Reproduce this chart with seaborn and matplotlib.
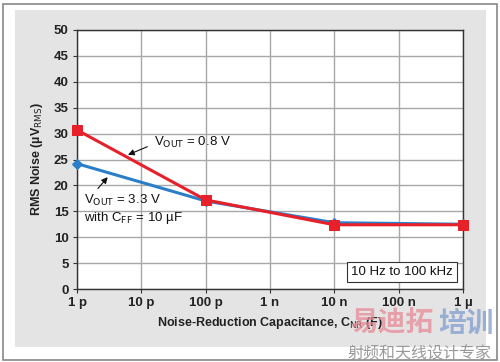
import pandas as pd
import numpy as np
import matplotlib.pyplot as plt
import seaborn as sns
from matplotlib.patches import Rectangle

sns.set_style('white')
plt.rcParams['font.family'] = ['Liberation Sans', 'Noto Sans CJK SC', 'DejaVu Sans']

# data
cap = [1e-12, 1e-10, 1e-8, 1e-6]
noise_08 = [30.7, 17.2, 12.4, 12.4]
noise_33 = [24.2, 17.0, 12.8, 12.5]
xticks = [1e-12, 1e-11, 1e-10, 1e-9, 1e-8, 1e-7, 1e-6]
xlabels = ['1 p', '10 p', '100 p', '1 n', '10 n', '100 n', '1 µ']
yticks = list(range(0, 55, 5))

df = pd.DataFrame({'cap': cap * 2,
                   'noise': noise_33 + noise_08,
                   'series': ['3.3'] * 4 + ['0.8'] * 4})

fig = plt.figure(figsize=(5, 3.62), dpi=100)
fig.patch.set_facecolor('white')
# outer frame and grey panel
fig.patches.append(Rectangle((3 / 500, 2 / 362), 494 / 500, 356 / 362, transform=fig.transFigure,
                             fill=False, edgecolor='#888888', lw=1.2, zorder=-10))
fig.patches.append(Rectangle((15 / 500, 15 / 362), 471 / 500, 337 / 362, transform=fig.transFigure,
                             facecolor='#e4e4e4', edgecolor='none', zorder=-10))

ax = fig.add_axes([77 / 500, 73 / 362, 386 / 500, 259 / 362])
ax.set_facecolor('white')

pal = {'3.3': '#2a7fc8', '0.8': '#e8202a'}
sns.lineplot(data=df[df.series == '3.3'], x='cap', y='noise', color=pal['3.3'], lw=2.2,
             marker='D', markersize=5.5, markeredgecolor=pal['3.3'], ax=ax, zorder=3,
             clip_on=False)
sns.lineplot(data=df[df.series == '0.8'], x='cap', y='noise', color=pal['0.8'], lw=2.2,
             marker='s', markersize=6.5, markeredgecolor=pal['0.8'], ax=ax, zorder=4,
             clip_on=False)

ax.set_xscale('log')
ax.set_xlim(1e-12, 1e-6)
ax.set_ylim(0, 50)
ax.set_xticks(xticks)
ax.set_xticklabels(xlabels)
ax.minorticks_off()
ax.set_yticks(yticks)
ax.grid(True, color='#a8a8a8', lw=1)
for s in ax.spines.values():
    s.set_color('#333333')
    s.set_linewidth(1)
ax.tick_params(axis='both', labelsize=9.5, length=3, direction='out', color='#333333',
               bottom=True, left=True, pad=3, labelcolor='#222222')
for lab in ax.get_xticklabels() + ax.get_yticklabels():
    lab.set_fontweight('bold')

ax.set_xlabel('Noise-Reduction Capacitance, C$_{\\mathrm{NR}}$ (F)', fontsize=9,
              fontweight='bold', color='#222222', labelpad=4)
ax.set_ylabel('RMS Noise (µV$_{\\mathrm{RMS}}$)', fontsize=9, fontweight='bold',
              color='#222222', labelpad=6)

ax.annotate('V$_{\\mathrm{OUT}}$ = 0.8 V', xy=(6.2e-12, 25.9), xytext=(1.6e-11, 28.2),
            fontsize=9.5, color='#111111', va='center',
            arrowprops=dict(arrowstyle='-|>', color='#111111', lw=0.8, mutation_scale=9,
                            shrinkA=3, shrinkB=0, relpos=(0, 0.45)))
ax.annotate('V$_{\\mathrm{OUT}}$ = 3.3 V\nwith C$_{\\mathrm{FF}}$ = 10 µF', xy=(3.0e-12, 21.6),
            xytext=(1.3e-12, 15.4), fontsize=9.5, color='#111111', va='center',
            linespacing=1.15,
            arrowprops=dict(arrowstyle='-|>', color='#111111', lw=0.8, mutation_scale=9,
                            shrinkA=1, shrinkB=0, relpos=(0.1, 1)))
ax.text(0.974, 0.066, '10 Hz to 100 kHz', transform=ax.transAxes, ha='right', va='center',
        fontsize=9.5, color='#111111',
        bbox=dict(boxstyle='square,pad=0.3', facecolor='white', edgecolor='#333333', lw=0.8))

# watermark
fig.text(0.70, 0.085, '易迪拓', fontsize=20, color='#e88a96', alpha=0.75, fontweight='bold')
fig.text(0.876, 0.085, '培训', fontsize=20, color='#7f9ccc', alpha=0.75, fontweight='bold')
fig.text(0.695, 0.01, '射频和天线设计专家', fontsize=11.5, color='#999999')

fig.savefig('out.png', dpi=100)
